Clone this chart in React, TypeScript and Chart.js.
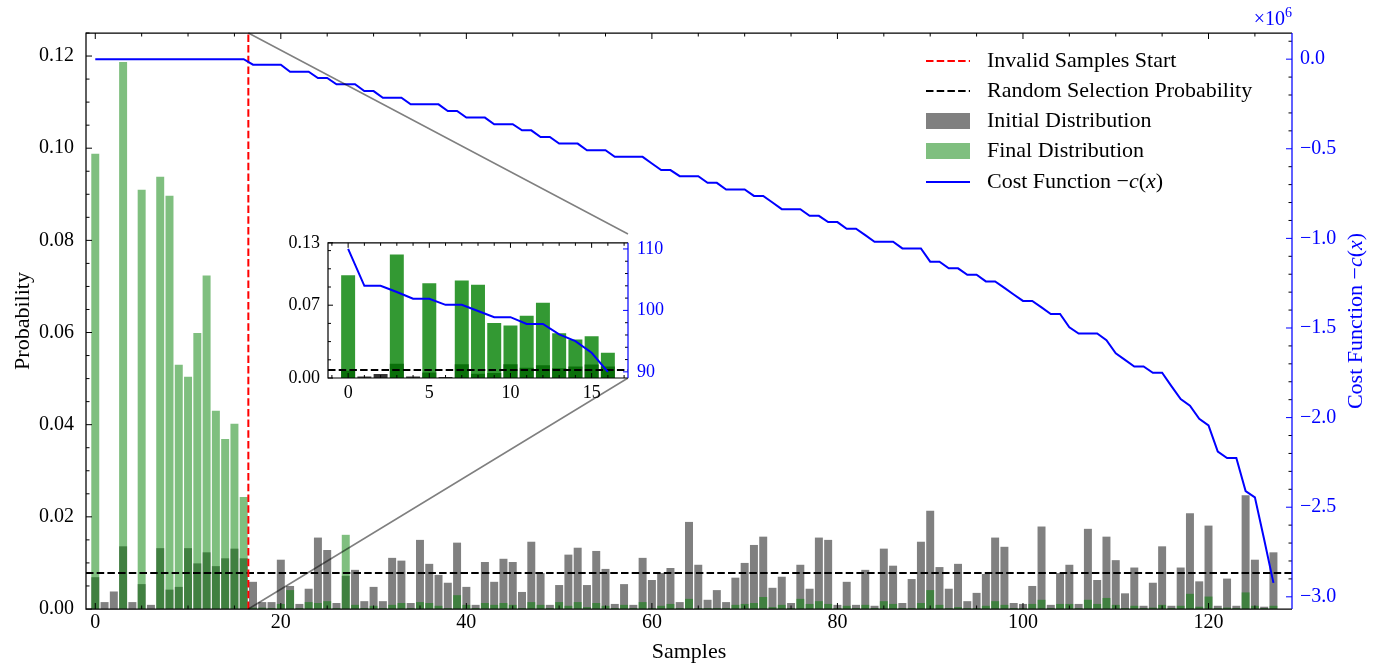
import React, { useEffect, useRef } from "react";
import { Chart, registerables } from "chart.js";

Chart.register(...registerables);

const SERIF = "'Liberation Serif', 'Times New Roman', serif";
const GREY = "rgb(128,128,128)";
const GREEN_A = "rgba(0,128,0,0.5)";
const GREEN_INSET = "rgba(0,128,0,0.8)";
const DARK_INSET = "rgba(0,0,0,0.8)";
const BLUE = "#0000ff";
const RED = "#ff0000";

// ---------------- data ----------------
const sampleIndex: number[] = Array.from({ length: 128 }, (_, i) => i);

const initialDist: number[] = [
  0.0069, 0.0015, 0.0038, 0.0136, 0.0015, 0.0054, 0.0009, 0.0132, 0.0042, 0.0048,
  0.0132, 0.0099, 0.0123, 0.0093, 0.011, 0.0131, 0.011, 0.0059, 0.0015, 0.0015,
  0.0107, 0.005, 0.0011, 0.0044, 0.0155, 0.0128, 0.0013, 0.0072, 0.0085, 0.0017,
  0.0048, 0.0017, 0.0111, 0.0105, 0.0013, 0.015, 0.0098, 0.0074, 0.0057, 0.0144,
  0.0048, 0.0009, 0.0102, 0.0059, 0.0109, 0.0102, 0.0037, 0.0146, 0.0078, 0.0009,
  0.0052, 0.0118, 0.0133, 0.0052, 0.0126, 0.0087, 0.0011, 0.0054, 0.0009, 0.0111,
  0.0063, 0.0078, 0.0089, 0.0015, 0.0189, 0.0096, 0.002, 0.0041, 0.0015, 0.0068,
  0.01, 0.0139, 0.0157, 0.0046, 0.007, 0.0013, 0.0096, 0.0044, 0.0155, 0.015,
  0.0009, 0.0059, 0.0009, 0.0085, 0.0007, 0.0131, 0.0094, 0.0013, 0.0065, 0.0146,
  0.0213, 0.0091, 0.0044, 0.0098, 0.0017, 0.0035, 0.0076, 0.0155, 0.0135, 0.0013,
  0.0011, 0.005, 0.0179, 0.0009, 0.0078, 0.0096, 0.0011, 0.0174, 0.0063, 0.0157,
  0.0106, 0.0034, 0.009, 0.0007, 0.0057, 0.0136, 0.0007, 0.009, 0.0208, 0.006,
  0.0181, 0.0007, 0.0066, 0.0007, 0.0247, 0.0107, 0.0005, 0.0123,
];

const finalDist: number[] = [
  0.0988, 0, 0, 0.1187, 0, 0.091, 0, 0.0938, 0.0897, 0.053,
  0.0504, 0.0599, 0.0724, 0.043, 0.0369, 0.0402, 0.0243, 0.0003, 0.0003, 0.0002,
  0.0011, 0.0041, 0.0002, 0.0015, 0.0013, 0.0017, 0.0002, 0.0161, 0.0009, 0.0002,
  0.0007, 0.0002, 0.0009, 0.0013, 0.0002, 0.0015, 0.0013, 0.0007, 0.0002, 0.003,
  0.0009, 0.0002, 0.0013, 0.0009, 0.0013, 0.0009, 0.0002, 0.0015, 0.0009, 0.0002,
  0.0015, 0.0007, 0.0015, 0.0004, 0.0013, 0.0007, 0.0002, 0.0009, 0.0002, 0.0015,
  0.0002, 0.0007, 0.0011, 0.0002, 0.0022, 0.0002, 0.0002, 0.0002, 0.0002, 0.0009,
  0.0011, 0.0013, 0.0026, 0.0004, 0.0009, 0.0002, 0.0022, 0.0011, 0.0017, 0.0011,
  0.0002, 0.0007, 0.0002, 0.0009, 0.0002, 0.0017, 0.0011, 0.0002, 0.0002, 0.0013,
  0.0041, 0.0009, 0.0002, 0.0004, 0.0002, 0.0002, 0.0007, 0.0017, 0.0009, 0.0002,
  0.0002, 0.0011, 0.002, 0.0002, 0.0011, 0.0011, 0.0002, 0.002, 0.0011, 0.0024,
  0.0009, 0.0002, 0.0007, 0.0002, 0.0003, 0.0009, 0.0002, 0.0007, 0.0033, 0.0005,
  0.0027, 0.0002, 0.0003, 0.0002, 0.0036, 0.0007, 0.0002, 0.0007,
];

// cost function -c(x), in units of 1e6
const costFunction: number[] = [
  0, 0, 0, 0, 0, 0, 0, 0, 0, 0,
  0, 0, 0, 0, 0, 0, 0, -0.031, -0.031, -0.031,
  -0.031, -0.07, -0.07, -0.07, -0.105, -0.105, -0.14, -0.14, -0.14, -0.178,
  -0.178, -0.215, -0.215, -0.215, -0.252, -0.252, -0.252, -0.252, -0.289, -0.289,
  -0.326, -0.326, -0.326, -0.363, -0.363, -0.363, -0.397, -0.397, -0.434, -0.434,
  -0.471, -0.471, -0.471, -0.508, -0.508, -0.508, -0.545, -0.545, -0.545, -0.545,
  -0.582, -0.619, -0.619, -0.653, -0.653, -0.653, -0.69, -0.69, -0.727, -0.727,
  -0.727, -0.763, -0.763, -0.8, -0.837, -0.837, -0.837, -0.874, -0.874, -0.909,
  -0.909, -0.946, -0.946, -0.982, -1.019, -1.019, -1.019, -1.056, -1.056, -1.056,
  -1.13, -1.13, -1.167, -1.167, -1.203, -1.203, -1.24, -1.24, -1.276, -1.313,
  -1.349, -1.349, -1.385, -1.422, -1.422, -1.496, -1.531, -1.531, -1.531, -1.568,
  -1.641, -1.678, -1.715, -1.715, -1.75, -1.75, -1.824, -1.897, -1.934, -2.007,
  -2.044, -2.19, -2.226, -2.226, -2.41, -2.445, -2.68, -2.922,
];

const insetSamples: number[] = sampleIndex.slice(0, 17);
const insetCost: number[] = [
  110, 104, 104, 103, 101.9, 101.9, 100.9, 100.9, 99.9, 98.9, 98.9, 97.8, 97.8, 96.1, 95.0, 93.1, 90.0,
];

const randomSelectionProb = 1 / 128;
const invalidSamplesStart = 16.5;

const xTicks = [0, 20, 40, 60, 80, 100, 120];
const probTicks = [0, 0.02, 0.04, 0.06, 0.08, 0.1, 0.12];
const costTicks = [0, -0.5, -1, -1.5, -2, -2.5, -3];
const insetXTicks = [0, 5, 10, 15];
const insetProbTicks = [0, 0.07, 0.13];
const insetCostTicks = [90, 100, 110];

const legendLabels = [
  "Invalid Samples Start",
  "Random Selection Probability",
  "Initial Distribution",
  "Final Distribution",
  "Cost Function ",
];

// ---------------- layout (page px) ----------------
const INSET = { left: 328, right: 628, top: 234, bottom: 378 };
const INSET_CANVAS = { left: 278, top: 223, width: 400, height: 190 };

// ---------------- helpers ----------------
function minorValues(min: number, max: number, step: number, majors: number[]) {
  const out: number[] = [];
  const n0 = Math.ceil(min / step - 1e-9);
  const n1 = Math.floor(max / step + 1e-9);
  for (let k = n0; k <= n1; k++) {
    const v = k * step;
    if (majors.some((m) => Math.abs(m - v) < step * 1e-3)) continue;
    out.push(v);
  }
  return out;
}
function tickX(ctx: CanvasRenderingContext2D, scale: any, vals: number[], y0: number, len: number) {
  ctx.beginPath();
  for (const v of vals) {
    const p = scale.getPixelForValue(v);
    ctx.moveTo(p, y0);
    ctx.lineTo(p, y0 + len);
  }
  ctx.stroke();
}
function tickY(ctx: CanvasRenderingContext2D, scale: any, vals: number[], x0: number, len: number) {
  ctx.beginPath();
  for (const v of vals) {
    const p = scale.getPixelForValue(v);
    ctx.moveTo(x0, p);
    ctx.lineTo(x0 + len, p);
  }
  ctx.stroke();
}
type Part = { t: string; it?: boolean };
function drawMixed(ctx: CanvasRenderingContext2D, parts: Part[], x: number, y: number, size: number, color: string, align: "left" | "center") {
  const fonts = parts.map((p) => `${p.it ? "italic " : ""}${size}px ${SERIF}`);
  let w = 0;
  const ws = parts.map((p, i) => {
    ctx.font = fonts[i];
    const m = ctx.measureText(p.t).width;
    w += m;
    return m;
  });
  let cx = align === "center" ? x - w / 2 : x;
  ctx.fillStyle = color;
  ctx.textBaseline = "middle";
  ctx.textAlign = "left";
  parts.forEach((p, i) => {
    ctx.font = fonts[i];
    ctx.fillText(p.t, cx, y);
    cx += ws[i];
  });
}
const costParts = (prefix: string): Part[] => [
  { t: prefix },
  { t: "\u2212" },
  { t: "c", it: true },
  { t: "(" },
  { t: "x", it: true },
  { t: ")" },
];
const fmtCost = (v: number) => (Math.abs(v) < 1e-9 ? "0.0" : (v < 0 ? "\u2212" : "") + Math.abs(v).toFixed(1));

// ---------------- main plugin ----------------
const mainDecor = {
  id: "mainDecor",
  afterDatasetsDraw(chart: any) {
    const { ctx, chartArea: a } = chart;
    const sx = chart.scales.x, sy = chart.scales.y, sy2 = chart.scales.y2;
    ctx.save();
    // zoom connectors
    const cx = sx.getPixelForValue(invalidSamplesStart);
    ctx.strokeStyle = "rgba(0,0,0,0.5)";
    ctx.lineWidth = 1.5;
    ctx.beginPath();
    ctx.moveTo(cx, a.top);
    ctx.lineTo(INSET.right, INSET.top);
    ctx.moveTo(cx, a.bottom);
    ctx.lineTo(INSET.right, INSET.bottom);
    ctx.stroke();
    // ticks (inward)
    ctx.lineWidth = 1;
    ctx.strokeStyle = "#000";
    const xMin = minorValues(sx.min, sx.max, 5, xTicks);
    tickX(ctx, sx, xTicks, a.bottom, -6);
    tickX(ctx, sx, xMin, a.bottom, -3.5);
    tickX(ctx, sx, xTicks, a.top, 6);
    tickX(ctx, sx, xMin, a.top, 3.5);
    const yMin = minorValues(sy.min, sy.max, 0.005, probTicks);
    tickY(ctx, sy, probTicks, a.left, 6);
    tickY(ctx, sy, yMin, a.left, 3.5);
    const y2Min = minorValues(sy2.min, sy2.max, 0.1, costTicks);
    tickY(ctx, sy2, y2Min, a.right, -3.5);
    ctx.strokeStyle = BLUE;
    tickY(ctx, sy2, costTicks, a.right, -6);
    // spines
    ctx.lineWidth = 1.25;
    ctx.strokeStyle = "#000";
    ctx.beginPath();
    ctx.moveTo(a.right, a.top);
    ctx.lineTo(a.left, a.top);
    ctx.lineTo(a.left, a.bottom);
    ctx.lineTo(a.right, a.bottom);
    ctx.stroke();
    ctx.strokeStyle = BLUE;
    ctx.beginPath();
    ctx.moveTo(a.right, a.top);
    ctx.lineTo(a.right, a.bottom);
    ctx.stroke();
    ctx.restore();
  },
  afterDraw(chart: any) {
    const { ctx, chartArea: a } = chart;
    ctx.save();
    // legend
    const rows = [61, 91, 121, 151, 182];
    const hx0 = 926, hx1 = 970, tx = 987;
    ctx.lineWidth = 2;
    ctx.setLineDash([7.5, 3.2]);
    ctx.strokeStyle = RED;
    ctx.beginPath(); ctx.moveTo(hx0, rows[0]); ctx.lineTo(hx1, rows[0]); ctx.stroke();
    ctx.strokeStyle = "#000";
    ctx.beginPath(); ctx.moveTo(hx0, rows[1]); ctx.lineTo(hx1, rows[1]); ctx.stroke();
    ctx.setLineDash([]);
    ctx.fillStyle = GREY;
    ctx.fillRect(hx0, rows[2] - 8, hx1 - hx0, 16);
    ctx.fillStyle = GREEN_A;
    ctx.fillRect(hx0, rows[3] - 8, hx1 - hx0, 16);
    ctx.strokeStyle = BLUE;
    ctx.beginPath(); ctx.moveTo(hx0, rows[4]); ctx.lineTo(hx1, rows[4]); ctx.stroke();
    for (let i = 0; i < 4; i++) drawMixed(ctx, [{ t: legendLabels[i] }], tx, rows[i], 22, "#000", "left");
    drawMixed(ctx, costParts(legendLabels[4]), tx, rows[4], 22, "#000", "left");
    // right axis title
    ctx.save();
    ctx.translate(1356, (a.top + a.bottom) / 2);
    ctx.rotate(-Math.PI / 2);
    drawMixed(ctx, costParts("Cost Function "), 0, 0, 22, BLUE, "center");
    ctx.restore();
    // offset text x10^6
    ctx.fillStyle = BLUE;
    ctx.textAlign = "left";
    ctx.textBaseline = "alphabetic";
    ctx.font = `20px ${SERIF}`;
    const w1 = ctx.measureText("\u00d710").width;
    ctx.font = `14px ${SERIF}`;
    const w2 = ctx.measureText("6").width;
    const sx0 = a.right - w1 - w2;
    ctx.font = `20px ${SERIF}`;
    ctx.fillText("\u00d710", sx0, 25);
    ctx.font = `14px ${SERIF}`;
    ctx.fillText("6", sx0 + w1, 17);
    ctx.restore();
  },
};

// ---------------- inset plugin ----------------
const insetDecor = {
  id: "insetDecor",
  beforeDraw(chart: any) {
    const { ctx, chartArea: a } = chart;
    ctx.save();
    ctx.fillStyle = "#fff";
    ctx.fillRect(a.left, a.top, a.right - a.left, a.bottom - a.top);
    ctx.restore();
  },
  afterDatasetsDraw(chart: any) {
    const { ctx, chartArea: a } = chart;
    const sx = chart.scales.x, sy = chart.scales.y, sy2 = chart.scales.y2;
    ctx.save();
    ctx.lineWidth = 1;
    ctx.strokeStyle = "#000";
    const xMin = minorValues(sx.min, sx.max, 1, insetXTicks);
    tickX(ctx, sx, insetXTicks, a.bottom, -5);
    tickX(ctx, sx, xMin, a.bottom, -3);
    tickX(ctx, sx, insetXTicks, a.top, 5);
    tickX(ctx, sx, xMin, a.top, 3);
    const yMin = minorValues(0, 0.13, 0.0175, insetProbTicks);
    tickY(ctx, sy, insetProbTicks, a.left, 5);
    tickY(ctx, sy, yMin, a.left, 3);
    const y2Min = minorValues(sy2.min, sy2.max, 2, insetCostTicks);
    tickY(ctx, sy2, y2Min, a.right, -3);
    ctx.strokeStyle = BLUE;
    tickY(ctx, sy2, insetCostTicks, a.right, -5);
    ctx.lineWidth = 1.2;
    ctx.strokeStyle = "#000";
    ctx.beginPath();
    ctx.moveTo(a.right, a.top);
    ctx.lineTo(a.left, a.top);
    ctx.lineTo(a.left, a.bottom);
    ctx.lineTo(a.right, a.bottom);
    ctx.stroke();
    ctx.strokeStyle = BLUE;
    ctx.beginPath();
    ctx.moveTo(a.right, a.top);
    ctx.lineTo(a.right, a.bottom);
    ctx.stroke();
    ctx.restore();
  },
};

const noGrid = { display: false, drawTicks: false };
const noBorder = { display: false };

function mainConfig(): any {
  const xy = (arr: number[]) => sampleIndex.map((s, i) => ({ x: s, y: arr[i] }));
  return {
    type: "bar",
    data: {
      datasets: [
        {
          type: "line",
          label: "Cost Function",
          data: xy(costFunction),
          borderColor: BLUE,
          borderWidth: 2,
          pointRadius: 0,
          fill: false,
          tension: 0,
          yAxisID: "y2",
          order: 0,
        },
        {
          type: "line",
          label: "Invalid Samples Start",
          data: [
            { x: invalidSamplesStart, y: 0 },
            { x: invalidSamplesStart, y: 0.125 },
          ],
          borderColor: RED,
          borderWidth: 2,
          borderDash: [7.5, 3.2],
          pointRadius: 0,
          fill: false,
          yAxisID: "y",
          order: 1,
        },
        {
          type: "line",
          label: "Random Selection Probability",
          data: [
            { x: -1, y: randomSelectionProb },
            { x: 129, y: randomSelectionProb },
          ],
          borderColor: "#000",
          borderWidth: 2,
          borderDash: [7.5, 3.2],
          pointRadius: 0,
          fill: false,
          yAxisID: "y",
          order: 2,
        },
        {
          type: "bar",
          label: "Final Distribution",
          data: xy(finalDist),
          backgroundColor: GREEN_A,
          borderWidth: 0,
          grouped: false,
          barPercentage: 0.86,
          categoryPercentage: 1,
          yAxisID: "y",
          order: 3,
        },
        {
          type: "bar",
          label: "Initial Distribution",
          data: xy(initialDist),
          backgroundColor: GREY,
          borderWidth: 0,
          grouped: false,
          barPercentage: 0.86,
          categoryPercentage: 1,
          yAxisID: "y",
          order: 4,
        },
      ],
    },
    options: {
      animation: false,
      responsive: false,
      maintainAspectRatio: false,
      devicePixelRatio: 1,
      layout: { padding: { top: 33, left: 0, right: 0, bottom: 0 } },
      plugins: { legend: { display: false }, tooltip: { enabled: false } },
      scales: {
        x: {
          type: "linear",
          min: -1,
          max: 129,
          offset: false,
          grid: noGrid,
          border: noBorder,
          afterBuildTicks: (s: any) => {
            s.ticks = xTicks.map((v) => ({ value: v }));
          },
          afterFit: (s: any) => {
            s.height = 55;
          },
          ticks: {
            padding: 2,
            color: "#000",
            font: { family: SERIF, size: 20 },
            maxRotation: 0,
            callback: (v: number) => String(v),
          },
          title: {
            display: true,
            text: "Samples",
            color: "#000",
            font: { family: SERIF, size: 22, lineHeight: 1 },
            padding: { top: 0, bottom: 1 },
          },
        },
        y: {
          type: "linear",
          position: "left",
          min: 0,
          max: 0.125,
          grid: noGrid,
          border: noBorder,
          afterBuildTicks: (s: any) => {
            s.ticks = probTicks.map((v) => ({ value: v }));
          },
          afterFit: (s: any) => {
            s.width = 86;
          },
          ticks: {
            padding: 12,
            color: "#000",
            font: { family: SERIF, size: 20 },
            callback: (v: number) => v.toFixed(2),
          },
          title: {
            display: true,
            text: "Probability",
            color: "#000",
            font: { family: SERIF, size: 22 },
            padding: { top: 10, bottom: 0 },
          },
        },
        y2: {
          type: "linear",
          position: "right",
          min: -3.068,
          max: 0.146,
          grid: noGrid,
          border: noBorder,
          afterBuildTicks: (s: any) => {
            s.ticks = costTicks.map((v) => ({ value: v }));
          },
          afterFit: (s: any) => {
            s.width = 87;
          },
          ticks: {
            padding: 8,
            color: BLUE,
            font: { family: SERIF, size: 20 },
            callback: (v: number) => fmtCost(v),
          },
          title: { display: false },
        },
      },
    },
    plugins: [mainDecor],
  };
}

function insetConfig(): any {
  const xy = (arr: number[]) => insetSamples.map((s, i) => ({ x: s, y: arr[i] }));
  return {
    type: "bar",
    data: {
      datasets: [
        {
          type: "line",
          label: "Cost",
          data: xy(insetCost),
          borderColor: BLUE,
          borderWidth: 2,
          pointRadius: 0,
          fill: false,
          tension: 0,
          yAxisID: "y2",
          order: 0,
        },
        {
          type: "line",
          label: "Random",
          data: [
            { x: -1.24, y: randomSelectionProb },
            { x: 17.24, y: randomSelectionProb },
          ],
          borderColor: "#000",
          borderWidth: 2,
          borderDash: [7.5, 3.2],
          pointRadius: 0,
          fill: false,
          yAxisID: "y",
          order: 1,
        },
        {
          type: "bar",
          label: "Final",
          data: xy(finalDist.slice(0, 17)),
          backgroundColor: GREEN_INSET,
          borderWidth: 0,
          grouped: false,
          barPercentage: 0.86,
          categoryPercentage: 1,
          yAxisID: "y",
          order: 2,
        },
        {
          type: "bar",
          label: "Initial",
          data: xy(initialDist.slice(0, 17)),
          backgroundColor: DARK_INSET,
          borderWidth: 0,
          grouped: false,
          barPercentage: 0.86,
          categoryPercentage: 1,
          yAxisID: "y",
          order: 3,
        },
      ],
    },
    options: {
      animation: false,
      responsive: false,
      maintainAspectRatio: false,
      devicePixelRatio: 1,
      layout: { padding: { top: INSET.top - INSET_CANVAS.top, left: 0, right: 0, bottom: 0 } },
      plugins: { legend: { display: false }, tooltip: { enabled: false } },
      scales: {
        x: {
          type: "linear",
          min: -1.24,
          max: 17.24,
          offset: false,
          grid: noGrid,
          border: noBorder,
          afterBuildTicks: (s: any) => {
            s.ticks = insetXTicks.map((v) => ({ value: v }));
          },
          afterFit: (s: any) => {
            s.height = INSET_CANVAS.top + INSET_CANVAS.height - INSET.bottom;
          },
          ticks: {
            padding: 4,
            color: "#000",
            font: { family: SERIF, size: 18 },
            maxRotation: 0,
            callback: (v: number) => String(v),
          },
        },
        y: {
          type: "linear",
          position: "left",
          min: 0,
          max: 0.13,
          grid: noGrid,
          border: noBorder,
          afterBuildTicks: (s: any) => {
            s.ticks = insetProbTicks.map((v) => ({ value: v }));
          },
          afterFit: (s: any) => {
            s.width = INSET.left - INSET_CANVAS.left;
          },
          ticks: {
            padding: 8,
            color: "#000",
            font: { family: SERIF, size: 18 },
            callback: (v: number) => v.toFixed(2),
          },
        },
        y2: {
          type: "linear",
          position: "right",
          min: 89,
          max: 111,
          grid: noGrid,
          border: noBorder,
          afterBuildTicks: (s: any) => {
            s.ticks = insetCostTicks.map((v) => ({ value: v }));
          },
          afterFit: (s: any) => {
            s.width = INSET_CANVAS.left + INSET_CANVAS.width - INSET.right;
          },
          ticks: {
            padding: 9,
            color: BLUE,
            font: { family: SERIF, size: 18 },
            callback: (v: number) => String(v),
          },
        },
      },
    },
    plugins: [insetDecor],
  };
}

export default function App() {
  const mainRef = useRef<HTMLCanvasElement>(null);
  const insetRef = useRef<HTMLCanvasElement>(null);
  useEffect(() => {
    const main = new Chart(mainRef.current as HTMLCanvasElement, mainConfig());
    const inset = new Chart(insetRef.current as HTMLCanvasElement, insetConfig());
    return () => {
      main.destroy();
      inset.destroy();
    };
  }, []);
  return (
    <div style={{ position: "fixed", left: 0, top: 0, width: 1379, height: 664, background: "#fff" }}>
      <canvas
        ref={mainRef}
        width={1379}
        height={664}
        style={{ position: "absolute", left: 0, top: 0, width: 1379, height: 664 }}
      />
      <canvas
        ref={insetRef}
        width={INSET_CANVAS.width}
        height={INSET_CANVAS.height}
        style={{
          position: "absolute",
          left: INSET_CANVAS.left,
          top: INSET_CANVAS.top,
          width: INSET_CANVAS.width,
          height: INSET_CANVAS.height,
        }}
      />
    </div>
  );
}
